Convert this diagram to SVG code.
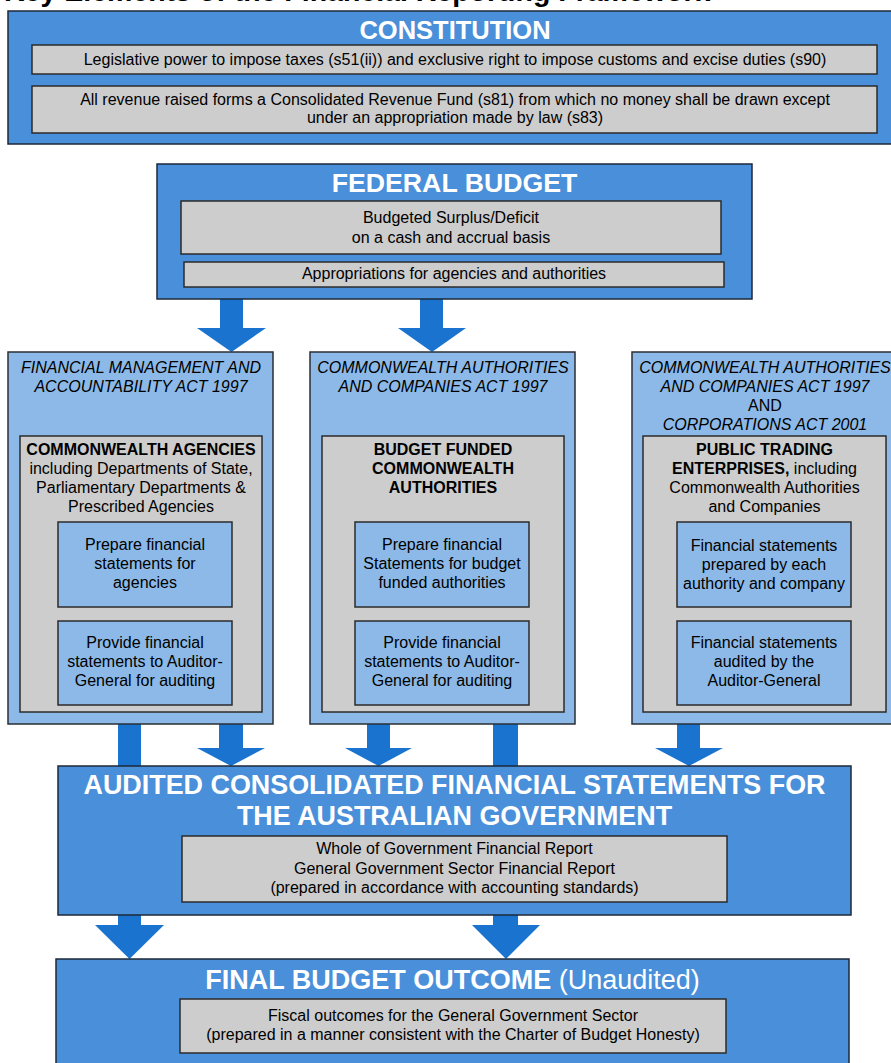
<svg xmlns="http://www.w3.org/2000/svg" width="891" height="1063" viewBox="0 0 891 1063">
<defs>
<style>
text{font-family:"Liberation Sans",Arial,Helvetica,sans-serif;fill:#000;text-anchor:middle}
.outer{fill:#4a8fd9;stroke:#1c2838;stroke-width:1.5}
.col{fill:#8cb9e7;stroke:#2a2f36;stroke-width:1.5}
.gray{fill:#cdcdcd;stroke:#2b2b2b;stroke-width:1.5}
.inner{fill:#8cb9e7;stroke:#2b2b2b;stroke-width:1.5}
.arrow{fill:#1a74cf}
.ttl{fill:#fff;font-weight:bold;font-size:26.7px}
.b16{font-size:16px}
.bold{font-weight:bold}
.it{font-style:italic;font-size:16px}
.top{text-anchor:start;font-weight:bold;font-size:28.5px}
</style>
</defs>
<rect width="891" height="1063" fill="#fff"/>
<text class="top" x="4" y="1">Key Elements of the Financial Reporting Framework</text>

<g id="connectors">
<polygon class="arrow" points="220,299 243,299 243,328 266,328 231.5,352 197,328 220,328"/>
<polygon class="arrow" points="420,299 443,299 443,328 466,328 432,352 398,328 420,328"/>
<polygon class="arrow" points="118,724 141,724 141,925 164,925 129.5,959 95,925 118,925"/>
<polygon class="arrow" points="219,724 243,724 243,748 265,748 231,766 197,748 219,748"/>
<polygon class="arrow" points="367,724 390,724 390,748 412,748 378.5,766 345,748 367,748"/>
<polygon class="arrow" points="493,724 518,724 518,925 540,925 506,959 472,925 493,925"/>
<polygon class="arrow" points="677,724 700,724 700,748 723,748 689,766 655,748 677,748"/>
</g>

<g id="constitution">
<rect class="outer" x="8" y="11" width="895" height="133"/>
<text class="ttl" x="455" y="39" style="font-size:25.5px">CONSTITUTION</text>
<rect class="gray" x="32" y="45" width="845" height="29"/>
<text class="b16" x="455" y="65">Legislative power to impose taxes (s51(ii)) and exclusive right to impose customs and excise duties (s90)</text>
<rect class="gray" x="32" y="86" width="845" height="47"/>
<text class="b16" x="455" y="105">All revenue raised forms a Consolidated Revenue Fund (s81) from which no money shall be drawn except</text>
<text class="b16" x="455" y="123">under an appropriation made by law (s83)</text>
</g>

<g id="federal-budget">
<rect class="outer" x="157" y="164" width="595" height="135"/>
<text class="ttl" x="454.5" y="192">FEDERAL BUDGET</text>
<rect class="gray" x="181" y="201" width="540" height="53"/>
<text class="b16" x="451" y="223">Budgeted Surplus/Deficit</text>
<text class="b16" x="451" y="243">on a cash and accrual basis</text>
<rect class="gray" x="184" y="262" width="540" height="25"/>
<text class="b16" x="454" y="279">Appropriations for agencies and authorities</text>
</g>

<g id="fma-act">
<rect class="col" x="8" y="352" width="265" height="372"/>
<text class="it" x="141" y="373">FINANCIAL MANAGEMENT AND</text>
<text class="it" x="141" y="392">ACCOUNTABILITY ACT 1997</text>
<rect class="gray" x="20" y="436" width="242" height="276"/>
<text class="b16 bold" x="141" y="455">COMMONWEALTH AGENCIES</text>
<text class="b16" x="141" y="474">including Departments of State,</text>
<text class="b16" x="141" y="493">Parliamentary Departments &amp;</text>
<text class="b16" x="141" y="512">Prescribed Agencies</text>
<rect class="inner" x="58" y="522" width="174" height="85"/>
<text class="b16" x="145" y="550">Prepare financial</text>
<text class="b16" x="145" y="569">statements for</text>
<text class="b16" x="145" y="588">agencies</text>
<rect class="inner" x="58" y="621" width="174" height="84"/>
<text class="b16" x="145" y="648">Provide financial</text>
<text class="b16" x="145" y="667">statements to Auditor-</text>
<text class="b16" x="145" y="686">General for auditing</text>
</g>

<g id="cac-act">
<rect class="col" x="310" y="352" width="265" height="372"/>
<text class="it" x="443" y="373">COMMONWEALTH AUTHORITIES</text>
<text class="it" x="443" y="392">AND COMPANIES ACT 1997</text>
<rect class="gray" x="322" y="436" width="242" height="276"/>
<text class="b16 bold" x="443" y="455">BUDGET FUNDED</text>
<text class="b16 bold" x="443" y="474">COMMONWEALTH</text>
<text class="b16 bold" x="443" y="493">AUTHORITIES</text>
<rect class="inner" x="355" y="522" width="174" height="85"/>
<text class="b16" x="442" y="550">Prepare financial</text>
<text class="b16" x="442" y="569">Statements for budget</text>
<text class="b16" x="442" y="588">funded authorities</text>
<rect class="inner" x="355" y="621" width="174" height="84"/>
<text class="b16" x="442" y="648">Provide financial</text>
<text class="b16" x="442" y="667">statements to Auditor-</text>
<text class="b16" x="442" y="686">General for auditing</text>
</g>

<g id="cac-corporations-act">
<rect class="col" x="632" y="352" width="266" height="372"/>
<text class="it" x="765" y="373">COMMONWEALTH AUTHORITIES</text>
<text class="it" x="765" y="392">AND COMPANIES ACT 1997</text>
<text class="b16" x="765" y="411">AND</text>
<text class="it" x="765" y="430">CORPORATIONS ACT 2001</text>
<rect class="gray" x="643" y="436" width="243" height="276"/>
<text class="b16 bold" x="764.5" y="455">PUBLIC TRADING</text>
<text class="b16" x="764.5" y="474"><tspan class="bold">ENTERPRISES,</tspan> including</text>
<text class="b16" x="764.5" y="493">Commonwealth Authorities</text>
<text class="b16" x="764.5" y="512">and Companies</text>
<rect class="inner" x="677" y="522" width="174" height="85"/>
<text class="b16" x="764" y="551">Financial statements</text>
<text class="b16" x="764" y="570">prepared by each</text>
<text class="b16" x="764" y="589">authority and company</text>
<rect class="inner" x="677" y="621" width="174" height="84"/>
<text class="b16" x="764" y="648">Financial statements</text>
<text class="b16" x="764" y="667">audited by the</text>
<text class="b16" x="764" y="686">Auditor-General</text>
</g>

<g id="audited-statements">
<rect class="outer" x="58" y="766" width="793" height="149"/>
<text class="ttl" x="454.5" y="794" style="font-size:26.9px">AUDITED CONSOLIDATED FINANCIAL STATEMENTS FOR</text>
<text class="ttl" x="454.5" y="825" style="font-size:26.9px">THE AUSTRALIAN GOVERNMENT</text>
<rect class="gray" x="182" y="836" width="545" height="66"/>
<text class="b16" x="454.5" y="854">Whole of Government Financial Report</text>
<text class="b16" x="454.5" y="874">General Government Sector Financial Report</text>
<text class="b16" x="454.5" y="893">(prepared in accordance with accounting standards)</text>
</g>

<g id="final-budget-outcome">
<rect class="outer" x="56" y="959" width="793" height="115"/>
<text class="ttl" x="452.5" y="989" style="font-size:27px">FINAL BUDGET OUTCOME <tspan style="font-weight:normal">(Unaudited)</tspan></text>
<rect class="gray" x="180" y="999" width="546" height="54"/>
<text class="b16" x="453" y="1021">Fiscal outcomes for the General Government Sector</text>
<text class="b16" x="453" y="1040">(prepared in a manner consistent with the Charter of Budget Honesty)</text>
</g>
</svg>
